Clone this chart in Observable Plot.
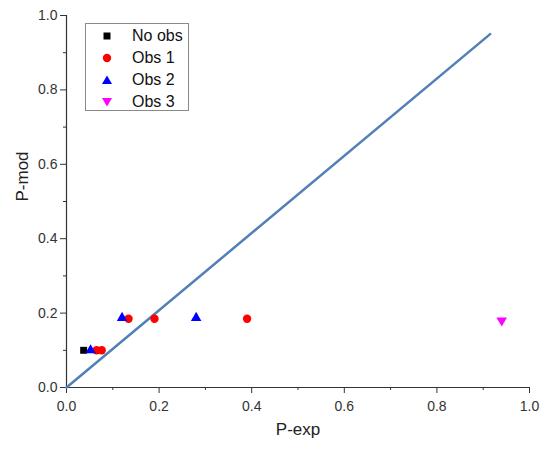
<!DOCTYPE html>
<html><head><meta charset="utf-8">
<script src="https://cdn.jsdelivr.net/npm/d3@7"></script>
<script src="https://cdn.jsdelivr.net/npm/@observablehq/plot@0.6"></script>
<style>
body{margin:0;background:#fff;font-family:"Liberation Sans",Arial,sans-serif}
#wrap{position:relative;width:544px;height:452px}
#legend{position:absolute;left:85px;top:23px;width:104px;height:88px;border:1px solid #8a8a8a;background:#fff;box-sizing:border-box;padding-top:1px}
.row{position:relative;height:22px;font-size:16px;color:#111}
.row svg{position:absolute;left:15px;top:5px}
.row span{position:absolute;left:46px;top:2px;line-height:18px}
</style></head>
<body><div id="wrap"><div id="legend"></div></div>
<script>
// series
const seriesNames = ["No obs", "Obs 1", "Obs 2", "Obs 3"];
const noObsX = [0.037];
const noObsY = [0.10];
const obs1X = [0.065, 0.076, 0.134, 0.19, 0.39];
const obs1Y = [0.10, 0.10, 0.185, 0.185, 0.185];
const obs2X = [0.052, 0.12, 0.28];
const obs2Y = [0.10, 0.187, 0.187];
const obs3X = [0.94];
const obs3Y = [0.18];
// reference line
const lineX = [0, 0.915];
const lineY = [0, 0.95];
// ticks
const majorTicks = [0, 0.2, 0.4, 0.6, 0.8, 1.0];
const minorTicks = [0.1, 0.3, 0.5, 0.7, 0.9];

const zip = (xs, ys) => xs.map((x, i) => ({x, y: ys[i]}));

const chart = Plot.plot({
  width: 544, height: 452,
  marginLeft: 66, marginRight: 15, marginTop: 15, marginBottom: 65,
  style: {fontFamily: '"Liberation Sans", Arial, sans-serif', background: "#fff", color: "#333"},
  x: {domain: [0, 1], label: null},
  y: {domain: [0, 1], label: null},
  marks: [
    Plot.axisX(minorTicks, {tickSize: 3, tickFormat: () => "", label: null, stroke: "#333"}),
    Plot.axisY(minorTicks, {tickSize: 3, tickFormat: () => "", label: null, stroke: "#333"}),
    Plot.axisX(majorTicks, {tickSize: 6, tickPadding: 8, tickFormat: d => d.toFixed(1), fontSize: 14, label: null, stroke: "#333"}),
    Plot.axisY(majorTicks, {tickSize: 6, tickPadding: 3, tickFormat: d => d.toFixed(1), fontSize: 14, label: null, stroke: "#333"}),
    Plot.ruleY([0], {stroke: "#333", strokeWidth: 1.2}),
    Plot.ruleX([0], {stroke: "#333", strokeWidth: 1.2}),
    Plot.text(["P-exp"], {frameAnchor: "bottom", dy: 42, lineAnchor: "middle", fontSize: 17, fill: "#222"}),
    Plot.text(["P-mod"], {frameAnchor: "left", dx: -44, rotate: -90, fontSize: 17, fill: "#222"}),
    Plot.line(zip(lineX, lineY), {x: "x", y: "y", stroke: "#4f80b8", strokeWidth: 2.5}),
    Plot.dot(zip(noObsX, noObsY), {x: "x", y: "y", symbol: "square", fill: "#000", r: 3.9}),
    Plot.dot(zip(obs1X, obs1Y), {x: "x", y: "y", symbol: "circle", fill: "#f00", r: 4.2}),
    Plot.dot(zip(obs2X, obs2Y), {x: "x", y: "y", symbol: "triangle", fill: "#00f", r: 3.9}),
    Plot.dot(zip(obs3X, obs3Y), {x: "x", y: "y", symbol: "triangle", fill: "#f0f", r: 3.9, rotate: 180})
  ]
});
document.getElementById("wrap").prepend(chart);

const legendSymbols = ["square", "circle", "triangle", "triangle-down"];
const legendColors = ["#000", "#f00", "#00f", "#f0f"];
const shapes = {
  "square": '<rect x="2.5" y="2.5" width="7" height="7"/>',
  "circle": '<circle cx="6" cy="6" r="4.2"/>',
  "triangle": '<path d="M6,1.5L11,10H1Z"/>',
  "triangle-down": '<path d="M1,2H11L6,10.5Z"/>'
};
const legend = document.getElementById("legend");
seriesNames.forEach((name, i) => {
  const row = document.createElement("div");
  row.className = "row";
  row.innerHTML = `<svg width="12" height="12" fill="${legendColors[i]}">${shapes[legendSymbols[i]]}</svg><span>${name}</span>`;
  legend.appendChild(row);
});
</script>
</body></html>
